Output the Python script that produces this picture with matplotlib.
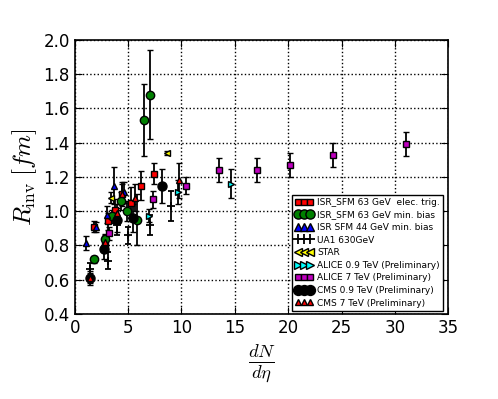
import matplotlib
matplotlib.use('Agg')
import matplotlib.pyplot as plt

plt.rcParams['mathtext.fontset'] = 'cm'

# ISR_SFM 63 GeV elec. trig.
isr63e_x = [1.81, 2.8, 3.1, 3.75, 4.44, 5.31, 6.25, 7.44]
isr63e_y = [0.91, 0.81, 0.94, 1.01, 1.10, 1.05, 1.15, 1.22]
isr63e_err = [0.03, 0.04, 0.05, 0.06, 0.07, 0.09, 0.085, 0.06]

# ISR_SFM 63 GeV min. bias
isr63m_x = [1.81, 2.81, 3.5, 4.31, 4.94, 5.88, 6.48, 7.04]
isr63m_y = [0.72, 0.835, 0.97, 1.06, 1.0, 0.95, 1.53, 1.68]
isr63m_err = [0.02, 0.03, 0.04, 0.05, 0.06, 0.15, 0.21, 0.26]

# ISR SFM 44 GeV min. bias
isr44_x = [1.09, 2.03, 3.0, 3.66, 4.6]
isr44_y = [0.815, 0.907, 0.98, 1.15, 1.11]
isr44_err = [0.04, 0.03, 0.05, 0.11, 0.06]

# UA1 630GeV
ua1_x = [1.47, 3.08, 4.0, 5.0, 7.03, 9.06]
ua1_y = [0.66, 0.71, 0.92, 0.86, 0.92, 1.03]
ua1_err = [0.04, 0.05, 0.06, 0.05, 0.06, 0.09]

# STAR
star_x = [3.375, 8.63]
star_y = [1.08, 1.34]
star_err = [0.03, 0.01]

# ALICE 0.9 TeV
alice09_x = [6.94, 9.69, 14.6]
alice09_y = [0.975, 1.115, 1.16]
alice09_err = [0.04, 0.07, 0.085]

# ALICE 7 TeV
alice7_x = [3.19, 7.34, 10.39, 13.54, 17.07, 20.19, 24.16, 31.05]
alice7_y = [0.87, 1.07, 1.15, 1.24, 1.24, 1.27, 1.33, 1.39]
alice7_err = [0.04, 0.05, 0.05, 0.07, 0.07, 0.07, 0.07, 0.07]

# CMS 0.9 TeV
cms09_x = [1.4, 2.75, 3.97, 5.47, 8.19]
cms09_y = [0.61, 0.78, 0.95, 0.96, 1.146]
cms09_err = [0.04, 0.06, 0.07, 0.08, 0.1]

# CMS 7 TeV
cms7_x = [1.4, 2.8, 3.97, 4.4, 5.6, 9.75]
cms7_y = [0.61, 0.82, 0.99, 1.1, 1.08, 1.18]
cms7_err = [0.03, 0.04, 0.05, 0.06, 0.08, 0.1]

series = [
    (isr63e_x, isr63e_y, isr63e_err, 's', 'red', 4.5, 'ISR_SFM 63 GeV  elec. trig.'),
    (isr63m_x, isr63m_y, isr63m_err, 'o', 'green', 6, 'ISR_SFM 63 GeV min. bias'),
    (isr44_x, isr44_y, isr44_err, '^', 'blue', 5, 'ISR SFM 44 GeV min. bias'),
    (ua1_x, ua1_y, ua1_err, '+', 'black', 6, 'UA1 630GeV'),
    (star_x, star_y, star_err, '<', 'yellow', 5, 'STAR'),
    (alice09_x, alice09_y, alice09_err, '>', 'cyan', 5, 'ALICE 0.9 TeV (Preliminary)'),
    (alice7_x, alice7_y, alice7_err, 's', 'm', 4.5, 'ALICE 7 TeV (Preliminary)'),
    (cms09_x, cms09_y, cms09_err, 'o', 'black', 6.5, 'CMS 0.9 TeV (Preliminary)'),
    (cms7_x, cms7_y, cms7_err, '^', 'red', 4, 'CMS 7 TeV (Preliminary)'),
]

fig = plt.figure(figsize=(4.98, 3.99), dpi=100)
ax = fig.add_axes([0.15, 0.213, 0.7506, 0.687])

for x, y, err, mk, col, ms, lab in series:
    ax.errorbar(x, y, yerr=err, fmt=mk, color=col, mfc=col, mec='black',
                ms=ms, ecolor='black', elinewidth=1.3, capsize=2.5, capthick=1.3,
                mew=1.0 if mk != '+' else 1.3, label=lab)

ax.set_xlim(0, 35)
ax.set_ylim(0.4, 2.0)
ax.set_xticks(range(0, 36, 5))
ax.set_yticks([0.4, 0.6, 0.8, 1.0, 1.2, 1.4, 1.6, 1.8, 2.0])
ax.tick_params(direction='in', top=True, right=True, labelsize=12, length=5)
ax.grid(True, color='black', linestyle=':', linewidth=1)
for s in ax.spines.values():
    s.set_linewidth(1.2)

ax.set_ylabel(r'$R_{\rm inv}\;[fm]$', fontsize=18, labelpad=3)
ax.set_xlabel(r'$\frac{dN}{d\eta}$', fontsize=19, labelpad=4)

handles, labels = ax.get_legend_handles_labels()
handles = [h[0] for h in handles]
ax.legend(handles, labels, loc='lower right', bbox_to_anchor=(0.985, 0.012),
          borderaxespad=0, fontsize=6.5, numpoints=3, labelspacing=0.4,
          handlelength=1.9, handletextpad=0.5, fancybox=False, framealpha=1,
          edgecolor='black', borderpad=0.35, markerscale=1.1)

fig.savefig('out.png', dpi=100)
